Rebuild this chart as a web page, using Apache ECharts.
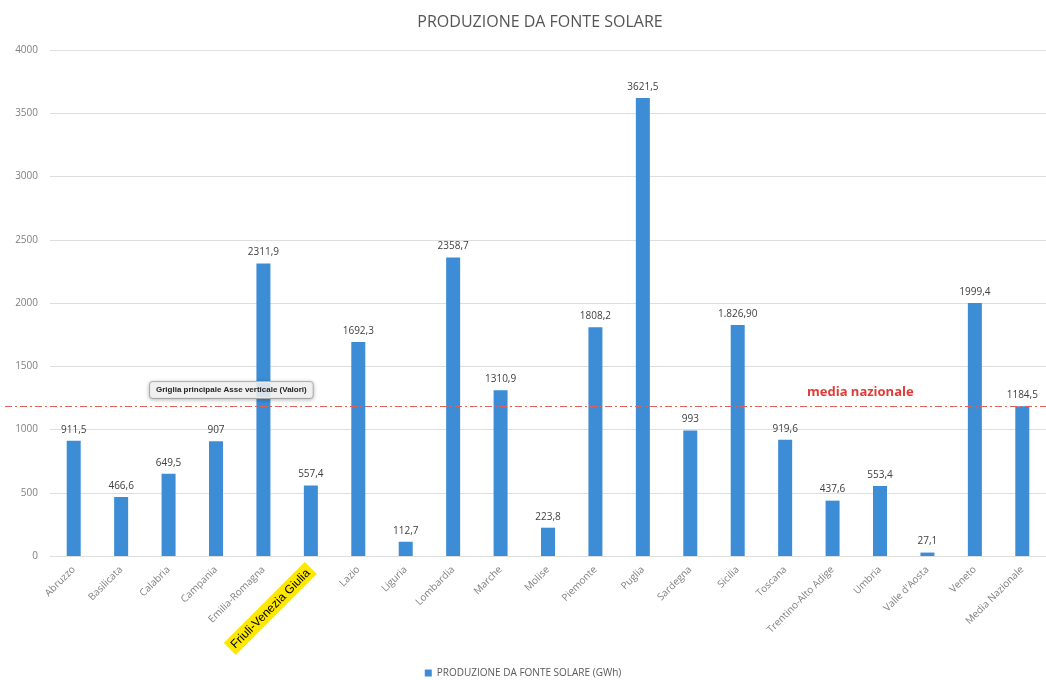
<!DOCTYPE html>
<html><head><meta charset="utf-8">
<script src="https://cdn.jsdelivr.net/npm/echarts@6/dist/echarts.min.js"></script>
<style>html,body{margin:0;padding:0;background:#fff}#c{width:1046px;height:680px}</style>
</head><body><div id="c"></div>
<script>
const categories = ["Abruzzo","Basilicata","Calabria","Campania","Emilia-Romagna","Friuli-Venezia Giulia","Lazio","Liguria","Lombardia","Marche","Molise","Piemonte","Puglia","Sardegna","Sicilia","Toscana","Trentino-Alto Adige","Umbria","Valle d'Aosta","Veneto","Media Nazionale"];
const values = [911.5,466.6,649.5,907,2311.9,557.4,1692.3,112.7,2358.7,1310.9,223.8,1808.2,3621.5,993,1826.9,919.6,437.6,553.4,27.1,1999.4,1184.5];
const valueLabels = ["911,5","466,6","649,5","907","2311,9","557,4","1692,3","112,7","2358,7","1310,9","223,8","1808,2","3621,5","993","1.826,90","919,6","437,6","553,4","27,1","1999,4","1184,5"];
const nationalAverage = 1184.5;
const yTicks = {min:0, max:4000, interval:500};
const seriesName = "PRODUZIONE DA FONTE SOLARE (GWh)";
const highlighted = "Friuli-Venezia Giulia";

const chart = echarts.init(document.getElementById('c'));
const font = "'Open Sans', 'Noto Sans', sans-serif";
chart.setOption({
  animation:false,
  textStyle:{fontFamily:font},
  title:{text:"PRODUZIONE DA FONTE SOLARE", left:535, textAlign:'center', top:9,
    textStyle:{fontSize:16, fontWeight:'normal', color:'#555', fontFamily:font}},
  legend:{bottom:-3, left:'center', itemWidth:7, itemHeight:7, icon:'rect',
    textStyle:{fontSize:10, color:'#595959', fontFamily:font}},
  grid:{left:50, right:-5, top:50, bottom:124, containLabel:false},
  xAxis:{type:'category', data:categories,
    axisLine:{show:false}, axisTick:{show:false},
    axisLabel:{interval:0, rotate:45, fontSize:10, color:'#7f7f7f', margin:12,
      formatter:v => v===highlighted ? '{hl|'+v+'}' : v,
      rich:{hl:{backgroundColor:'#FFE800', color:'#000', fontSize:12, padding:[3,4,2,4], fontFamily:"'Liberation Sans', Arial, sans-serif"}}}},
  yAxis:{type:'value', min:yTicks.min, max:yTicks.max, interval:yTicks.interval,
    axisLine:{show:false}, axisTick:{show:false},
    axisLabel:{fontSize:10, color:'#7f7f7f', margin:12, formatter:v => String(v)},
    splitLine:{lineStyle:{color:'#dedede', width:1}}},
  series:[{
    name:seriesName, type:'bar', data:values, barWidth:14,
    itemStyle:{color:'#3C8DD6'},
    label:{show:true, position:'top', distance:6, fontSize:10, color:'#404040',
      formatter:p => valueLabels[p.dataIndex]},
    markLine:{symbol:'none', silent:true,
      lineStyle:{color:'#E0605A', type:[7,3,2,3], width:1},
      label:{show:false},
      data:[{yAxis:nationalAverage, x:5}]
    }
  }],
  graphic:[
    {type:'text', left:807, top:386, z:100, style:{text:'media nazionale', fill:'#E03B36', font:"bold 13px 'Open Sans', sans-serif"}},
    {type:'text', left:149, top:381, z:100, style:{text:'Griglia principale Asse verticale (Valori)', fill:'#222',
      font:"bold 8px 'Liberation Sans', Arial, sans-serif", backgroundColor:'rgba(247,247,247,0.85)', borderColor:'#bbb', borderWidth:1, borderRadius:3,
      padding:[4,6,4,6], shadowBlur:4, shadowColor:'rgba(0,0,0,0.25)', shadowOffsetY:1}}
  ]
});
</script></body></html>
